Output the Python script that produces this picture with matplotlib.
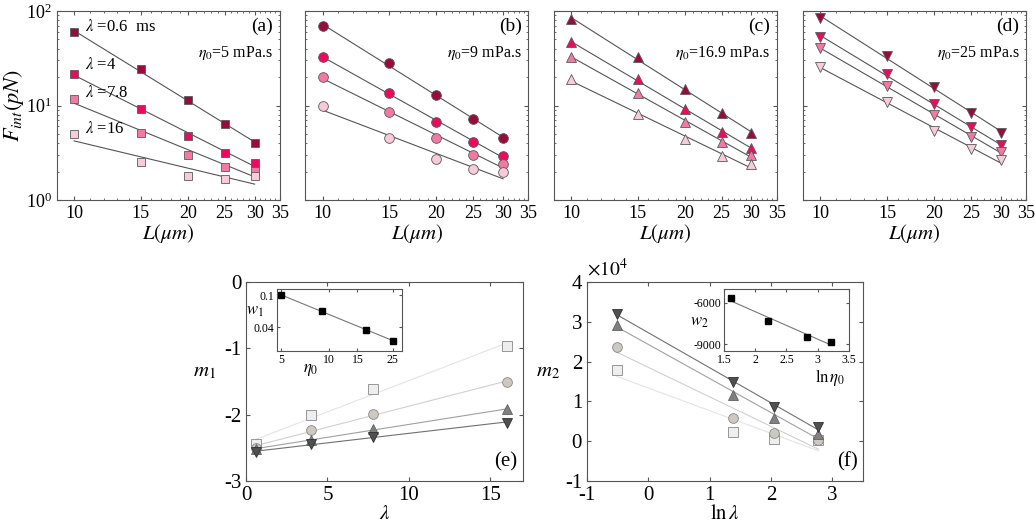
import numpy as np
import matplotlib
matplotlib.use("Agg")
import matplotlib.pyplot as plt
from matplotlib.ticker import FixedLocator, NullFormatter, LogLocator, NullLocator

plt.rcParams['font.family'] = ['Liberation Serif', 'DejaVu Serif']
plt.rcParams['mathtext.fontset'] = 'stix'
plt.rcParams['xtick.direction'] = 'in'
plt.rcParams['ytick.direction'] = 'in'

# ---- data ----
L = [10, 15, 20, 25, 30]
lam = [0.6, 4, 7.8, 16]
eta0 = [5, 9, 16.9, 25]

# F_int (pN), rows = lambda 0.6, 4, 7.8, 16
F_a = [[59.4, 24.1, 11.4, 6.3, 4.05],
       [21.7, 9.2, 4.75, 3.12, 2.48],
       [11.6, 5.15, 2.97, 2.25, 2.04],
       [4.95, 2.5, 1.81, 1.68, 1.8]]
F_b = [[69.0, 27.9, 13.0, 7.2, 4.5],
       [32.9, 13.5, 6.7, 4.07, 2.94],
       [20.2, 8.5, 4.5, 2.97, 2.41],
       [9.9, 4.5, 2.69, 2.11, 1.96]]
F_c = [[81.6, 32.4, 15.1, 8.3, 5.07],
       [46.6, 19.1, 9.1, 5.28, 3.58],
       [32.9, 13.7, 6.7, 4.07, 2.97],
       [19.1, 8.2, 4.38, 2.94, 2.40]]
F_d = [[83.6, 33.7, 15.6, 8.4, 5.15],
       [53.5, 21.5, 10.3, 5.87, 3.82],
       [40.3, 16.2, 7.9, 4.68, 3.25],
       [25.8, 10.8, 5.42, 3.46, 2.65]]

# m1 vs lambda, rows = eta0 5, 9, 16.9, 25
m1 = [[-2.45, -2.01, -1.61, -0.97],
      [-2.50, -2.23, -1.985, -1.51],
      [-2.52, -2.38, -2.22, -1.92],
      [-2.57, -2.44, -2.33, -2.12]]
# m2 (x1e4) vs ln lambda
m2 = [[1.78, 0.24, 0.06, 0.02],
      [2.36, 0.59, 0.21, 0.03],
      [2.93, 1.15, 0.57, 0.19],
      [3.20, 1.48, 0.85, 0.35]]
w1 = [0.1, 0.0637, 0.037, 0.0269]
w2 = [-5650, -7300, -8500, -8830]

pinks = ['#990a3d', '#ec0a5e', '#f27aa2', '#f9cbd8']
grays = ['#eeeeee', '#cdc9c1', '#808080', '#505050']
gray_edges = ['#888888', '#888888', '#606060', '#303030']
fit_grays = ['#e4e4e4', '#d0d0d0', '#a0a0a0', '#707070']
markers = ['s', 'o', '^', 'v']
msizes = [5.5, 7, 7.5, 7.5]

spine_c = '#555555'

fig = plt.figure(figsize=(10.35, 5.3), dpi=100)

top_lefts = [0.055, 0.295, 0.535, 0.776]
panels = [F_a, F_b, F_c, F_d]
labels = ['(a)', '(b)', '(c)', '(d)']
etas = ['5', '9', '16.9', '25']
minor_L = [m for m in range(9, 36) if m % 5 != 0]

for k in range(4):
    ax = fig.add_axes([top_lefts[k], 0.6226, 0.2155, 0.3566])
    ax.set_xscale('log')
    ax.set_yscale('log')
    lx = np.log10(L)
    for i in range(4):
        y = panels[k][i]
        p = np.polyfit(lx, np.log10(y), 1)
        ax.plot(L, 10 ** np.polyval(p, lx), color='#555555', lw=0.8, zorder=2)
        ax.plot(L, y, ls='none', marker=markers[k], ms=msizes[k],
                mfc=pinks[i], mec='#5a5a5a', mew=0.6, zorder=3)
    ax.set_xlim(9, 35)
    ax.set_ylim(1, 100)
    ax.xaxis.set_major_locator(FixedLocator([10, 15, 20, 25, 30, 35]))
    ax.xaxis.set_minor_locator(FixedLocator(minor_L))
    ax.xaxis.set_minor_formatter(NullFormatter())
    ax.set_xticklabels(['10', '15', '20', '25', '30', '35'], fontsize=13)
    ax.yaxis.set_minor_locator(LogLocator(base=10, subs=np.arange(2, 10)))
    ax.yaxis.set_minor_formatter(NullFormatter())
    ax.tick_params(which='both', top=True, right=True, colors=spine_c,
                   labelcolor='black', length=3)
    ax.tick_params(which='minor', length=1.5)
    if k == 0:
        ax.tick_params(axis='y', labelsize=13)
        ax.set_ylabel(r'$F_{int}(pN)$', fontsize=16, labelpad=0)
    else:
        ax.set_yticklabels([])
    ax.set_xlabel(r'$L(\mu m)$', fontsize=15, labelpad=0)
    for s in ax.spines.values():
        s.set_color(spine_c)
    ax.text(0.97, 0.92, labels[k], transform=ax.transAxes, ha='right',
            va='center', fontsize=14)
    ax.text(0.97, 0.78, r'$\eta_{\mathit{0}}$=' + etas[k] + ' mPa.s',
            transform=ax.transAxes, ha='right', va='center', fontsize=11.5)
    if k == 0:
        ann = [r'$\lambda$ =0.6  ms', r'$\lambda$ =4', r'$\lambda$ =7.8',
               r'$\lambda$ =16']
        ann_y = [68, 27, 13.5, 5.7]
        for t, yy in zip(ann, ann_y):
            ax.text(10.7, yy, t, fontsize=12, va='center', ha='left')

# ---- panel (e) ----
axe = fig.add_axes([0.2377, 0.0925, 0.2676, 0.3755])
for i in range(4):
    p = np.polyfit(lam, m1[i], 1)
    xx = np.array([0.6, 16])
    axe.plot(xx, np.polyval(p, xx), color=fit_grays[i], lw=0.8, zorder=2)
    axe.plot(lam, m1[i], ls='none', marker=markers[i], ms=7,
             mfc=grays[i], mec=gray_edges[i], mew=0.6, zorder=3)
axe.set_xlim(0, 17)
axe.set_ylim(-3, 0)
axe.set_xticks([0, 5, 10, 15])
axe.set_yticks([-3, -2, -1, 0])
axe.set_yticklabels(['-3', '-2', '-1', '0'])
axe.tick_params(top=True, right=True, labelsize=15, colors=spine_c,
                labelcolor='black', length=3)
axe.set_xlabel(r'$\lambda$', fontsize=15, labelpad=0)
axe.set_ylabel(r'$m_1$', fontsize=15, rotation=0, labelpad=14)
for s in axe.spines.values():
    s.set_color(spine_c)
axe.text(0.98, 0.05, '(e)', transform=axe.transAxes, ha='right', va='bottom',
         fontsize=15)

# inset of (e)
ine = fig.add_axes([0.2676, 0.3377, 0.1208, 0.117])
ine.set_xscale('log')
ine.set_yscale('log')
pe = np.polyfit(np.log10(eta0), np.log10(w1), 1)
ine.plot(eta0, 10 ** np.polyval(pe, np.log10(eta0)), color='#777777', lw=0.8)
ine.plot(eta0, w1, ls='none', marker='s', ms=4, color='black')
ine.set_xlim(4.7, 28.5)
ine.set_ylim(0.02, 0.12)
ine.xaxis.set_major_locator(FixedLocator([5, 10, 15, 25]))
ine.xaxis.set_minor_locator(NullLocator())
ine.set_xticklabels(['5', '10', '15', '25'])
ine.yaxis.set_major_locator(FixedLocator([0.04, 0.1]))
ine.yaxis.set_minor_locator(NullLocator())
ine.set_yticklabels(['0.04', '0.1'])
ine.tick_params(top=True, right=True, labelsize=8.5, colors=spine_c,
                labelcolor='black', length=2, pad=2)
ine.set_xlabel(r'$\eta_{\mathit{0}}$', fontsize=12, va='center')
ine.xaxis.set_label_coords(0.27, -0.3)
ine.set_ylabel(r'$w_1$', fontsize=12, rotation=0, va='center', ha='center')
ine.yaxis.set_label_coords(-0.18, 0.65)
for s in ine.spines.values():
    s.set_color(spine_c)

# ---- panel (f) ----
axf = fig.add_axes([0.5671, 0.0925, 0.2667, 0.3755])
ln_lam = np.log(lam)
for i in range(4):
    p = np.polyfit(ln_lam, m2[i], 1)
    xx = np.array([ln_lam[0], ln_lam[-1]])
    axf.plot(xx, np.polyval(p, xx), color=fit_grays[i], lw=0.8, zorder=2)
    axf.plot(ln_lam, m2[i], ls='none', marker=markers[i], ms=7,
             mfc=grays[i], mec=gray_edges[i], mew=0.6, zorder=3)
axf.set_xlim(-1, 3.5)
axf.set_ylim(-1, 4)
axf.set_xticks([-1, 0, 1, 2, 3])
axf.set_xticklabels(['-1', '0', '1', '2', '3'])
axf.set_yticks([-1, 0, 1, 2, 3, 4])
axf.set_yticklabels(['-1', '0', '1', '2', '3', '4'])
axf.tick_params(top=True, right=True, labelsize=15, colors=spine_c,
                labelcolor='black', length=3)
axf.set_xlabel(r'$\ln\lambda$', fontsize=15, labelpad=0)
axf.set_ylabel(r'$m_2$', fontsize=15, rotation=0, labelpad=12)
for s in axf.spines.values():
    s.set_color(spine_c)
axf.text(0.0, 1.01, r'$\times 10^4$', transform=axf.transAxes, ha='left',
         va='bottom', fontsize=14)
axf.text(0.98, 0.05, '(f)', transform=axf.transAxes, ha='right', va='bottom',
         fontsize=15)

# inset of (f)
inf = fig.add_axes([0.6995, 0.3377, 0.1208, 0.117])
ln_eta = np.log(eta0)
pf = np.polyfit(ln_eta, w2, 1)
inf.plot(ln_eta, np.polyval(pf, ln_eta), color='#777777', lw=0.8)
inf.plot(ln_eta, w2, ls='none', marker='s', ms=4, color='black')
inf.set_xlim(1.5, 3.5)
inf.set_ylim(-9500, -5000)
inf.set_xticks([1.5, 2, 2.5, 3, 3.5])
inf.set_xticklabels(['1.5', '2', '2.5', '3', '3.5'])
inf.set_yticks([-9000, -6000])
inf.set_yticklabels(['-9000', '-6000'])
inf.tick_params(top=True, right=True, labelsize=8.5, colors=spine_c,
                labelcolor='black', length=2, pad=2)
inf.set_xlabel(r'$\ln\eta_{\mathit{0}}$', fontsize=12, va='center')
inf.xaxis.set_label_coords(0.85, -0.42)
inf.set_ylabel(r'$w_2$', fontsize=12, rotation=0, va='center', ha='center')
inf.yaxis.set_label_coords(-0.2, 0.47)
for s in inf.spines.values():
    s.set_color(spine_c)

fig.savefig('out.png', dpi=100)
